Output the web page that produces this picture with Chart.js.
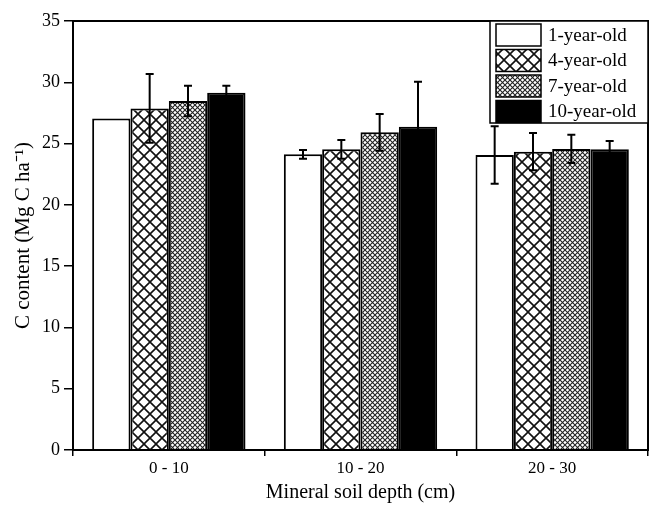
<!DOCTYPE html>
<html>
<head>
<meta charset="utf-8">
<script src="https://cdn.jsdelivr.net/npm/chart.js@4/dist/chart.umd.min.js"></script>
<style>
  html, body { margin: 0; padding: 0; background: #fff; }
  #wrap { width: 649px; height: 505px; }
</style>
</head>
<body>
<div id="wrap"><canvas id="c" width="649" height="505"></canvas></div>
<script>
var categories = ['0 - 10', '10 - 20', '20 - 30'];
var seriesNames = ['1-year-old', '4-year-old', '7-year-old', '10-year-old'];

var oneYear = [27.05, 24.12, 24.07];
var fourYear = [27.87, 24.53, 24.34];
var sevenYear = [28.47, 25.92, 24.56];
var tenYear = [29.15, 26.38, 24.53];

var oneYearErr = [0, 0.35, 2.35];
var fourYearErr = [2.8, 0.76, 1.52];
var sevenYearErr = [1.25, 1.5, 1.15];
var tenYearErr = [0.57, 3.67, 0.68];

var yTicks = [0, 5, 10, 15, 20, 25, 30, 35];

var serif = '"Liberation Serif", "Times New Roman", serif';

function makePattern(size, lineWidth, color) {
    var c = document.createElement('canvas');
    c.width = size;
    c.height = size;
    var g = c.getContext('2d');
    g.fillStyle = '#fff';
    g.fillRect(0, 0, size, size);
    g.strokeStyle = color;
    g.lineWidth = lineWidth;
    g.beginPath();
    g.moveTo(-1, -1); g.lineTo(size + 1, size + 1);
    g.moveTo(size + 1, -1); g.lineTo(-1, size + 1);
    g.stroke();
    return g.createPattern(c, 'repeat');
}

var crossBig = makePattern(12, 1.6, '#111');
var crossFine = makePattern(5, 1.1, '#222');

var fills = ['#ffffff', crossBig, crossFine, '#000000'];
var values = [oneYear, fourYear, sevenYear, tenYear];
var errors = [oneYearErr, fourYearErr, sevenYearErr, tenYearErr];

var datasets = seriesNames.map(function (name, i) {
    return {
        label: name,
        data: values[i],
        errors: errors[i],
        backgroundColor: fills[i],
        borderColor: '#000',
        borderWidth: 2,
        borderSkipped: 'bottom',
        categoryPercentage: 0.8,
        barPercentage: 1.0
    };
});

// error bars, read from the dataset's own errors through the y scale
var errorBars = {
    id: 'errorBars',
    afterDatasetsDraw: function (chart) {
        var ctx = chart.ctx;
        var y = chart.scales.y;
        ctx.save();
        ctx.strokeStyle = '#000';
        ctx.lineWidth = 2;
        chart.data.datasets.forEach(function (ds, i) {
            var meta = chart.getDatasetMeta(i);
            meta.data.forEach(function (bar, j) {
                var err = ds.errors[j];
                if (!err) return;
                var top = y.getPixelForValue(ds.data[j] + err);
                var bot = y.getPixelForValue(ds.data[j] - err);
                var x = bar.x;
                ctx.beginPath();
                ctx.moveTo(x, top); ctx.lineTo(x, bot);
                ctx.moveTo(x - 4, top); ctx.lineTo(x + 4, top);
                ctx.moveTo(x - 4, bot); ctx.lineTo(x + 4, bot);
                ctx.stroke();
            });
        });
        ctx.restore();
    }
};

// box round the plot and the legend in its top right corner
var frameAndLegend = {
    id: 'frameAndLegend',
    afterDraw: function (chart) {
        var ctx = chart.ctx;
        var a = chart.chartArea;
        ctx.save();
        ctx.strokeStyle = '#000';
        ctx.lineWidth = 2;
        ctx.strokeRect(a.left, a.top, a.right - a.left, a.bottom - a.top);

        var bx = 490, by = a.top, bw = a.right - 490, bh = 102;
        ctx.fillStyle = '#fff';
        ctx.fillRect(bx, by, bw, bh);
        ctx.lineWidth = 1.5;
        ctx.strokeRect(bx, by, bw, bh);

        ctx.font = '19px ' + serif;
        ctx.textBaseline = 'middle';
        chart.data.datasets.forEach(function (ds, i) {
            var ry = by + 3 + i * 25.5;
            ctx.fillStyle = ds.backgroundColor;
            ctx.fillRect(bx + 6, ry, 45, 22);
            ctx.lineWidth = 1.5;
            ctx.strokeStyle = '#000';
            ctx.strokeRect(bx + 6, ry, 45, 22);
            ctx.fillStyle = '#000';
            ctx.fillText(ds.label, bx + 58, ry + 12);
        });
        ctx.restore();
    }
};

new Chart(document.getElementById('c'), {
    type: 'bar',
    data: {
        labels: categories,
        datasets: datasets
    },
    options: {
        responsive: false,
        animation: false,
        layout: { padding: { top: 21, right: 1, bottom: 0, left: 0 } },
        plugins: {
            legend: { display: false },
            tooltip: { enabled: false }
        },
        scales: {
            x: {
                offset: true,
                grid: {
                    offset: true,
                    drawOnChartArea: false,
                    drawTicks: true,
                    tickLength: 6,
                    color: '#000',
                    lineWidth: 1.5
                },
                border: { color: '#000', width: 2 },
                ticks: {
                    color: '#000',
                    padding: 2,
                    font: { family: serif, size: 17 }
                },
                title: {
                    display: true,
                    text: 'Mineral soil depth (cm)',
                    color: '#000',
                    padding: { top: 0, bottom: 0 },
                    font: { family: serif, size: 20 }
                },
                afterFit: function (s) { s.height = 55; }
            },
            y: {
                min: 0,
                max: 35,
                afterBuildTicks: function (s) {
                    s.ticks = yTicks.map(function (v) { return { value: v }; });
                },
                grid: {
                    drawOnChartArea: false,
                    drawTicks: true,
                    tickLength: 9,
                    color: '#000',
                    lineWidth: 1.5
                },
                border: { color: '#000', width: 2 },
                ticks: {
                    color: '#000',
                    padding: 4,
                    font: { family: serif, size: 18 }
                },
                title: {
                    display: true,
                    text: 'C content (Mg C ha\u207B\u00B9)',
                    color: '#000',
                    padding: { top: 11, bottom: 0 },
                    font: { family: serif, size: 21 }
                },
                afterFit: function (s) { s.width = 73; }
            }
        }
    },
    plugins: [errorBars, frameAndLegend]
});
</script>
</body>
</html>
